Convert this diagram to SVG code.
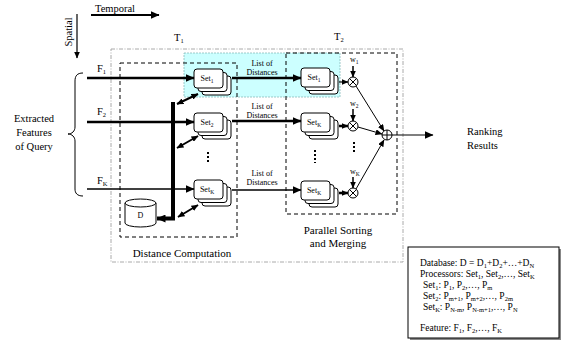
<svg xmlns="http://www.w3.org/2000/svg" xmlns:xlink="http://www.w3.org/1999/xlink" width="564" height="343" viewBox="0 0 564 343">
<style>
text{font-family:"Liberation Serif","Times New Roman",serif;fill:#000}
.t{font-size:10.5px}
.m{font-size:11px}
.sm{font-size:8px}
.lg{font-size:9.5px}
.box{fill:#fff;stroke:#000;stroke-width:1}
.ln{fill:none;stroke:#000}
</style>
<defs>
<marker id="ah" markerUnits="userSpaceOnUse" markerWidth="9" markerHeight="8" refX="8.5" refY="4" orient="auto-start-reverse"><path d="M0,0 L9,4 L0,8 z" fill="#000"/></marker>
<marker id="as" markerUnits="userSpaceOnUse" markerWidth="7" markerHeight="6" refX="6.5" refY="3" orient="auto-start-reverse"><path d="M0,0 L7,3 L0,6 z" fill="#000"/></marker>
<g id="stack">
<rect class="box" x="8" y="7" width="29" height="19" rx="3"/>
<rect class="box" x="4" y="3.5" width="29" height="19" rx="3"/>
<rect class="box" x="0" y="0" width="29" height="19" rx="3"/>
</g>
<g id="mul"><circle cx="0" cy="0" r="5" fill="#fff" stroke="#000"/><path d="M-3.5,-3.5 L3.5,3.5 M-3.5,3.5 L3.5,-3.5" stroke="#000"/></g>
</defs>

<!-- background regions -->
<rect x="111" y="49" width="292" height="213" fill="none" stroke="#aaa" stroke-width="1" stroke-dasharray="4 1.5 1 1.5"/>
<rect x="184" y="53" width="156" height="44" fill="#ccffff" stroke="#88bbbb" stroke-width="0.8" stroke-dasharray="2 1"/>
<rect id="distanceBox" x="120" y="63" width="117" height="174" fill="none" stroke="#000" stroke-width="1" stroke-dasharray="4 3"/>
<rect id="sortBox" x="286" y="53" width="111" height="161" fill="none" stroke="#000" stroke-width="1" stroke-dasharray="4 3"/>

<!-- axes -->
<g id="axes">
<text class="t" x="115" y="12" text-anchor="middle">Temporal</text>
<line class="ln" x1="91" y1="15" x2="159" y2="15" stroke-width="1.8" marker-end="url(#ah)"/>
<text class="t" transform="translate(72,32) rotate(-90)" text-anchor="middle">Spatial</text>
<line class="ln" x1="77" y1="14" x2="77" y2="58" stroke-width="1.2" marker-end="url(#as)"/>
<text class="t" x="174" y="41">T<tspan font-size="6.5" dy="2">1</tspan></text>
<text class="t" x="334" y="40">T<tspan font-size="6.5" dy="2">2</tspan></text>
</g>

<g id="query">
<path class="ln" d="M83,73 C77,73 75,76 75,81 L75,127 C75,131 72,134 68,134 C72,134 75,137 75,141 L75,189 C75,193 77,196 83,196" stroke-width="1"/>
<text class="t" text-anchor="middle"><tspan x="34" y="122">Extracted</tspan><tspan x="34" y="136">Features</tspan><tspan x="34" y="150">of Query</tspan></text>
<text class="t" x="97" y="72">F<tspan font-size="6.5" dy="2">1</tspan></text>
<text class="t" x="97" y="115">F<tspan font-size="6.5" dy="2">2</tspan></text>
<text class="t" x="97" y="184">F<tspan font-size="6.5" dy="2">K</tspan></text>
</g>

<!-- nodes column 1 -->
<g id="set1a"><use xlink:href="#stack" href="#stack" x="194" y="69"/><text class="sm" x="207" y="81" text-anchor="middle">Set<tspan font-size="5.5" dy="2">1</tspan></text></g>
<g id="set2a"><use xlink:href="#stack" href="#stack" x="194" y="113"/><text class="sm" x="207" y="125" text-anchor="middle">Set<tspan font-size="5.5" dy="2">2</tspan></text></g>
<g id="setKa"><use xlink:href="#stack" href="#stack" x="194" y="180"/><text class="sm" x="207" y="192" text-anchor="middle">Set<tspan font-size="5.5" dy="2">K</tspan></text></g>
<g id="dots1"><line x1="208" y1="152" x2="208" y2="164" stroke="#000" stroke-width="2" stroke-dasharray="2 2"/></g>

<g id="db">
<path d="M125,203 L125,223 A15.5,4 0 0 0 156,223 L156,203" fill="#fff" stroke="#000"/>
<ellipse cx="140.5" cy="203" rx="15.5" ry="4" fill="#fff" stroke="#000"/>
<text class="sm" x="140.5" y="218" text-anchor="middle">D</text>
</g>

<!-- nodes column 2 -->
<g id="set1b"><use xlink:href="#stack" href="#stack" x="301" y="68"/><text class="sm" x="314" y="80" text-anchor="middle">Set<tspan font-size="5.5" dy="2">1</tspan></text></g>
<g id="setKb1"><use xlink:href="#stack" href="#stack" x="301" y="113"/><text class="sm" x="314" y="125" text-anchor="middle">Set<tspan font-size="5.5" dy="2">K</tspan></text></g>
<g id="setKb2"><use xlink:href="#stack" href="#stack" x="301" y="181"/><text class="sm" x="314" y="193" text-anchor="middle">Set<tspan font-size="5.5" dy="2">K</tspan></text></g>
<g id="dots2"><line x1="315" y1="150" x2="315" y2="163" stroke="#000" stroke-width="2" stroke-dasharray="2 2"/><line x1="354" y1="142" x2="354" y2="154" stroke="#000" stroke-width="2" stroke-dasharray="2 2"/></g>

<g id="mul1"><use xlink:href="#mul" href="#mul" x="353" y="82"/><text class="sm" x="350" y="62">w<tspan font-size="5.5" dy="2">1</tspan></text></g>
<g id="mul2"><use xlink:href="#mul" href="#mul" x="353" y="126"/><text class="sm" x="350" y="106">w<tspan font-size="5.5" dy="2">2</tspan></text></g>
<g id="mulK"><use xlink:href="#mul" href="#mul" x="353" y="193"/><text class="sm" x="350" y="174">w<tspan font-size="5.5" dy="2">K</tspan></text></g>
<g id="sum"><circle cx="387" cy="135" r="5" fill="#fff" stroke="#000"/><path d="M382,135 L392,135 M387,130 L387,140" stroke="#000"/></g>

<g id="labels">
<text class="sm" text-anchor="middle"><tspan x="262" y="66">List of</tspan><tspan x="262" y="75">Distances</tspan></text>
<text class="sm" text-anchor="middle"><tspan x="262" y="109">List of</tspan><tspan x="262" y="118">Distances</tspan></text>
<text class="sm" text-anchor="middle"><tspan x="262" y="176">List of</tspan><tspan x="262" y="185">Distances</tspan></text>
<text class="m" x="182" y="257" text-anchor="middle">Distance Computation</text>
<text class="m" text-anchor="middle"><tspan x="338" y="234">Parallel Sorting</tspan><tspan x="338" y="247">and Merging</tspan></text>
<text class="t"><tspan x="467" y="135">Ranking</tspan><tspan x="467" y="149">Results</tspan></text>
</g>

<!-- connectors -->
<g id="connectors">
<line class="ln" x1="87" y1="78" x2="194" y2="78" stroke-width="2.5" marker-end="url(#ah)"/>
<line class="ln" x1="87" y1="122" x2="194" y2="122" stroke-width="2.5" marker-end="url(#ah)"/>
<line class="ln" x1="87" y1="189" x2="194" y2="189" stroke-width="1.3" marker-end="url(#ah)"/>
<line class="ln" x1="232" y1="78" x2="301" y2="78" stroke-width="2.5" marker-end="url(#ah)"/>
<line class="ln" x1="232" y1="121" x2="301" y2="121" stroke-width="2.5" marker-end="url(#ah)"/>
<line class="ln" x1="232" y1="190" x2="301" y2="190" stroke-width="1.3" marker-end="url(#ah)"/>
<line class="ln" x1="339" y1="82" x2="348" y2="82" stroke-width="1.2" marker-end="url(#as)"/>
<line class="ln" x1="339" y1="126" x2="348" y2="126" stroke-width="2.5" marker-end="url(#as)"/>
<line class="ln" x1="339" y1="193" x2="348" y2="193" stroke-width="2.5" marker-end="url(#as)"/>
<line class="ln" x1="353" y1="66" x2="353" y2="77" stroke-width="1.5" marker-end="url(#as)"/>
<line class="ln" x1="353" y1="109" x2="353" y2="121" stroke-width="1.5" marker-end="url(#as)"/>
<line class="ln" x1="353" y1="177" x2="353" y2="188" stroke-width="1.5" marker-end="url(#as)"/>
<line class="ln" x1="356" y1="86" x2="384" y2="131" stroke-width="1" marker-end="url(#as)"/>
<line class="ln" x1="358" y1="127" x2="382" y2="134" stroke-width="1" marker-end="url(#as)"/>
<line class="ln" x1="356" y1="189" x2="384" y2="140" stroke-width="1" marker-end="url(#as)"/>
<line class="ln" x1="392" y1="135" x2="433" y2="135" stroke-width="1.2" marker-end="url(#ah)"/>
<path class="ln" d="M173,102 L173,218.5" stroke-width="4"/>
<line class="ln" x1="175" y1="218.5" x2="157" y2="218.5" stroke-width="4" marker-end="url(#ah)"/>
<line class="ln" x1="177" y1="104" x2="198" y2="94" stroke-width="2" marker-start="url(#as)" marker-end="url(#as)"/>
<line class="ln" x1="177" y1="148" x2="198" y2="136" stroke-width="2" marker-start="url(#as)" marker-end="url(#as)"/>
<line class="ln" x1="178" y1="217" x2="198" y2="205" stroke-width="2" marker-start="url(#as)" marker-end="url(#as)"/>
</g>

<g id="legend">
<rect x="410" y="249" width="151" height="91" fill="#888"/>
<rect x="408" y="247" width="151" height="91" fill="#fff" stroke="#000" stroke-width="1"/>
<text class="lg" x="420" y="266">Database: D = D<tspan font-size="6.5" dy="2">1</tspan><tspan dy="-2">+D</tspan><tspan font-size="6.5" dy="2">2</tspan><tspan dy="-2">+…+D</tspan><tspan font-size="6.5" dy="2">N</tspan></text>
<text class="lg" x="420" y="277">Processors: Set<tspan font-size="6.5" dy="2">1</tspan><tspan dy="-2">, Set</tspan><tspan font-size="6.5" dy="2">2</tspan><tspan dy="-2">,…, Set</tspan><tspan font-size="6.5" dy="2">K</tspan></text>
<text class="lg" x="423" y="288">Set<tspan font-size="6.5" dy="2">1</tspan><tspan dy="-2">: P</tspan><tspan font-size="6.5" dy="2">1</tspan><tspan dy="-2">, P</tspan><tspan font-size="6.5" dy="2">2</tspan><tspan dy="-2">,…, P</tspan><tspan font-size="6.5" dy="2">m</tspan></text>
<text class="lg" x="423" y="299">Set<tspan font-size="6.5" dy="2">2</tspan><tspan dy="-2">: P</tspan><tspan font-size="6.5" dy="2">m+1</tspan><tspan dy="-2">, P</tspan><tspan font-size="6.5" dy="2">m+2</tspan><tspan dy="-2">,…, P</tspan><tspan font-size="6.5" dy="2">2m</tspan></text>
<text class="lg" x="423" y="310">Set<tspan font-size="6.5" dy="2">K</tspan><tspan dy="-2">: P</tspan><tspan font-size="6.5" dy="2">N-m</tspan><tspan dy="-2">, P</tspan><tspan font-size="6.5" dy="2">N-m+1</tspan><tspan dy="-2">,…, P</tspan><tspan font-size="6.5" dy="2">N</tspan></text>
<text class="lg" x="420" y="331">Feature: F<tspan font-size="6.5" dy="2">1</tspan><tspan dy="-2">, F</tspan><tspan font-size="6.5" dy="2">2</tspan><tspan dy="-2">,…, F</tspan><tspan font-size="6.5" dy="2">K</tspan></text>
</g>
</svg>
